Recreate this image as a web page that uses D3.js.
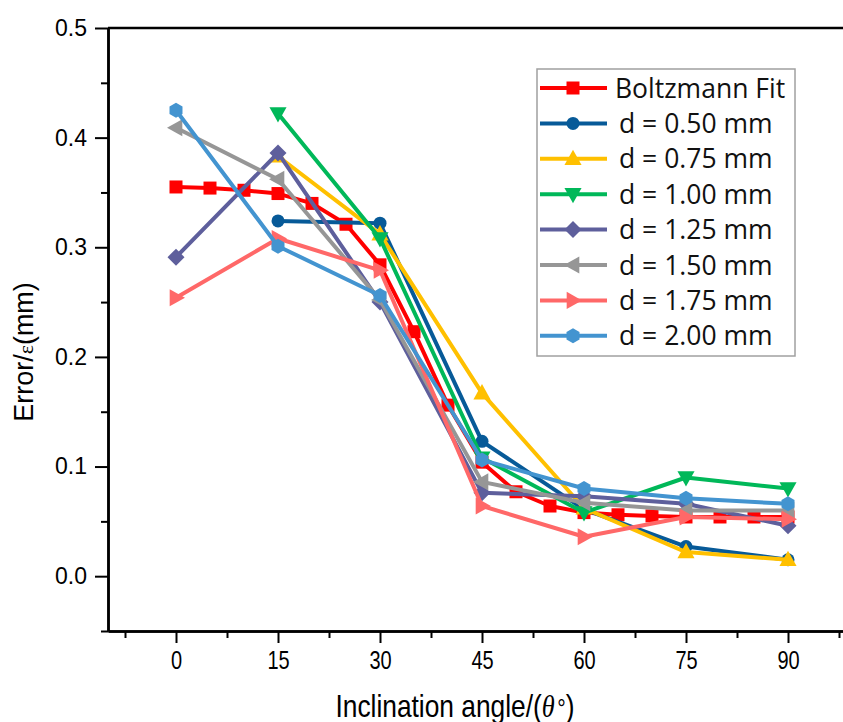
<!DOCTYPE html>
<html>
<head>
<meta charset="utf-8">
<script src="https://cdn.jsdelivr.net/npm/d3@7"></script>
<style>
  body { margin: 0; background: #fff; }
  svg { display: block; }
</style>
</head>
<body>
<svg id="chart" width="843" height="722"></svg>
<script>
// data
var angles = [0, 15, 30, 45, 60, 75, 90];
var fitAngles = [0, 5, 10, 15, 20, 25, 30, 35, 40, 45, 50, 55, 60, 65, 70, 75, 80, 85, 90];
var fitValues = [0.355, 0.354, 0.352, 0.349, 0.340, 0.321, 0.284, 0.223, 0.156, 0.104, 0.077, 0.064, 0.058, 0.056, 0.055, 0.054, 0.054, 0.054, 0.054];
var d050 = [null, 0.324, 0.322, 0.123, 0.061, 0.027, 0.015];
var d075 = [null, 0.383, 0.312, 0.167, 0.062, 0.022, 0.015];
var d100 = [null, 0.422, 0.308, 0.108, 0.058, 0.090, 0.080];
var d125 = [0.291, 0.386, 0.250, 0.076, 0.073, 0.066, 0.046];
var d150 = [0.409, 0.362, 0.252, 0.086, 0.067, 0.060, 0.060];
var d175 = [0.254, 0.308, 0.279, 0.064, 0.036, 0.054, 0.052];
var d200 = [0.425, 0.301, 0.256, 0.106, 0.080, 0.071, 0.066];
var legendLabels = ["Boltzmann Fit", "d = 0.50 mm", "d = 0.75 mm", "d = 1.00 mm", "d = 1.25 mm", "d = 1.50 mm", "d = 1.75 mm", "d = 2.00 mm"];
var yTicks = [0, 0.1, 0.2, 0.3, 0.4, 0.5];
var yMinor = [-0.05, 0.05, 0.15, 0.25, 0.35, 0.45];
var xTicks = [0, 15, 30, 45, 60, 75, 90];
var xMinor = [-7.5, 7.5, 22.5, 37.5, 52.5, 67.5, 82.5, 97.5];

var svg = d3.select("#chart");

var x = d3.scaleLinear().domain([-10, 100]).range([108, 856]);
var y = d3.scaleLinear().domain([-0.05, 0.5]).range([631, 28]);

// marker shapes, r = half size
function shapePath(kind, r) {
    var p = d3.path();
    if (kind === "square") {
        p.rect(-r, -r, 2 * r, 2 * r);
    } else if (kind === "circle") {
        p.arc(0, 0, r, 0, 2 * Math.PI);
    } else if (kind === "diamond") {
        p.moveTo(0, -r); p.lineTo(r, 0); p.lineTo(0, r); p.lineTo(-r, 0);
    } else if (kind === "hexagon") {
        for (var i = 0; i < 6; i++) {
            var a = Math.PI / 3 * i - Math.PI / 2;
            if (i === 0) p.moveTo(r * Math.cos(a), r * Math.sin(a));
            else p.lineTo(r * Math.cos(a), r * Math.sin(a));
        }
    } else {
        // triangle pointing up, rotated later
        p.moveTo(0, -r); p.lineTo(r * 0.95, r * 0.7); p.lineTo(-r * 0.95, r * 0.7);
    }
    p.closePath();
    return p.toString();
}

function pairs(xs, ys) {
    var out = [];
    for (var i = 0; i < xs.length; i++) {
        if (ys[i] !== null) out.push({x: xs[i], y: ys[i]});
    }
    return out;
}

var series = [
    {name: legendLabels[0], color: "#ff0000", shape: "square", r: 6.5, rot: 0, pts: pairs(fitAngles, fitValues)},
    {name: legendLabels[1], color: "#075a98", shape: "circle", r: 6.5, rot: 0, pts: pairs(angles, d050)},
    {name: legendLabels[2], color: "#ffc000", shape: "triangle", r: 9, rot: 0, pts: pairs(angles, d075)},
    {name: legendLabels[3], color: "#00b859", shape: "triangle", r: 9, rot: 180, pts: pairs(angles, d100)},
    {name: legendLabels[4], color: "#5e5f9c", shape: "diamond", r: 8.5, rot: 0, pts: pairs(angles, d125)},
    {name: legendLabels[5], color: "#969696", shape: "triangle", r: 9, rot: -90, pts: pairs(angles, d150)},
    {name: legendLabels[6], color: "#ff6868", shape: "triangle", r: 9, rot: 90, pts: pairs(angles, d175)},
    {name: legendLabels[7], color: "#4394d0", shape: "hexagon", r: 7.5, rot: 0, pts: pairs(angles, d200)}
];

// axes
var axisColor = "#000";
var yAxis = svg.append("g").attr("transform", "translate(" + x(-10) + ",0)")
    .call(d3.axisLeft(y).tickValues(yTicks).tickFormat(d3.format(".1f")).tickSize(13).tickSizeOuter(0).tickPadding(8));
svg.append("g").attr("transform", "translate(" + x(-10) + ",0)")
    .call(d3.axisLeft(y).tickValues(yMinor).tickFormat("").tickSize(7).tickSizeOuter(0));

var xAxis = svg.append("g").attr("transform", "translate(0," + y(-0.05) + ")")
    .call(d3.axisBottom(x).tickValues(xTicks).tickSize(12).tickSizeOuter(0).tickPadding(8));
svg.append("g").attr("transform", "translate(0," + y(-0.05) + ")")
    .call(d3.axisBottom(x).tickValues(xMinor).tickFormat("").tickSize(7).tickSizeOuter(0));

svg.selectAll(".domain").attr("stroke", axisColor).attr("stroke-width", 2.5);
svg.selectAll(".tick line").attr("stroke", axisColor).attr("stroke-width", 2);
yAxis.selectAll("text").attr("font-family", "Liberation Sans, Arial, sans-serif").attr("font-size", 23).attr("fill", "#000");
// narrow look for the bottom labels
xAxis.selectAll("text")
    .attr("font-family", "Liberation Sans, Arial, sans-serif")
    .attr("font-size", 25)
    .attr("transform", "scale(0.8,1)")
    .attr("fill", "#000");

// top frame line
svg.append("line")
    .attr("x1", x(-10)).attr("x2", x(100))
    .attr("y1", y(0.5)).attr("y2", y(0.5))
    .attr("stroke", axisColor).attr("stroke-width", 2.5);

// axis titles
var xt = svg.append("text")
    .attr("transform", "translate(455,717) scale(0.85,1)")
    .attr("text-anchor", "middle")
    .attr("font-family", "Liberation Sans, Arial, sans-serif")
    .attr("font-size", 31).attr("fill", "#000");
xt.append("tspan").text("Inclination angle/(");
xt.append("tspan").attr("font-family", "Liberation Serif, serif").attr("font-style", "italic").text("\u03b8");
xt.append("tspan").attr("font-size", 25).attr("dx", 3).text("\u00b0");
xt.append("tspan").text(")");

var yt = svg.append("text")
    .attr("transform", "translate(33,352) rotate(-90)")
    .attr("text-anchor", "middle")
    .attr("font-family", "Liberation Sans, Arial, sans-serif")
    .attr("font-size", 27).attr("fill", "#000");
yt.append("tspan").text("Error/");
yt.append("tspan").attr("font-family", "Liberation Serif, serif").attr("font-size", 22).text("\u03b5");
yt.append("tspan").text("(mm)");

// series
var line = d3.line().x(function(d) { return x(d.x); }).y(function(d) { return y(d.y); });

var groups = svg.selectAll(".series").data(series).enter()
    .append("g").attr("class", "series");

groups.append("path")
    .attr("d", function(s) { return line(s.pts); })
    .attr("fill", "none")
    .attr("stroke", function(s) { return s.color; })
    .attr("stroke-width", 4)
    .attr("stroke-linejoin", "round");

groups.each(function(s) {
    d3.select(this).selectAll(".pt").data(s.pts).enter()
        .append("path")
        .attr("class", "pt")
        .attr("d", shapePath(s.shape, s.r))
        .attr("transform", function(d) { return "translate(" + x(d.x) + "," + y(d.y) + ") rotate(" + s.rot + ")"; })
        .attr("fill", s.color);
});

// legend
var legend = svg.append("g").attr("transform", "translate(537,69)");
legend.append("rect")
    .attr("width", 258).attr("height", 287)
    .attr("fill", "#fff")
    .attr("stroke", "#a0a0a0").attr("stroke-width", 1.5);

var rows = legend.selectAll(".row").data(series).enter()
    .append("g")
    .attr("transform", function(s, i) { return "translate(0," + (19 + i * 35.4) + ")"; });

rows.append("line")
    .attr("x1", 3).attr("x2", 70)
    .attr("stroke", function(s) { return s.color; })
    .attr("stroke-width", 4);
rows.append("path")
    .attr("d", function(s) { return shapePath(s.shape, s.r); })
    .attr("transform", function(s) { return "translate(36,0) rotate(" + s.rot + ")"; })
    .attr("fill", function(s) { return s.color; });
rows.append("text")
    .attr("x", function(s, i) { return i === 0 ? 78 : 82; })
    .attr("dy", "0.36em")
    .attr("font-family", "Open Sans, sans-serif")
    .attr("font-size", 26.5)
    .attr("fill", "#111")
    .text(function(s) { return s.name; });
</script>
</body>
</html>
